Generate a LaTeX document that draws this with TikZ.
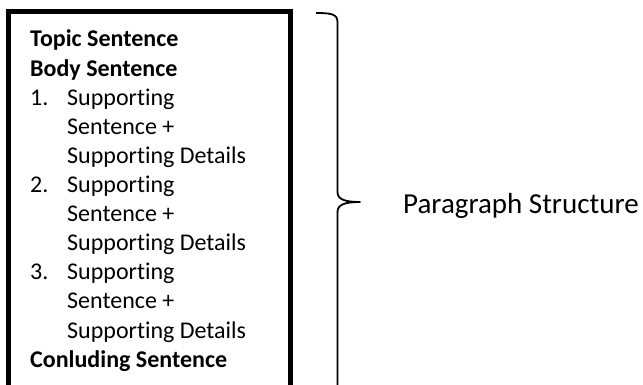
\documentclass[tikz,border=0pt]{standalone}
\usepackage{fontspec}
\setmainfont{Carlito}[Ligatures=NoCommon]
\begin{document}
\begin{tikzpicture}[x=1pt,y=-1pt,
  boxtext/.style={anchor=base west, inner sep=0pt, font=\fontsize{24}{29}\selectfont},
  boldtext/.style={anchor=base west, inner sep=0pt, font=\fontsize{24}{29}\selectfont\bfseries},
  labeltext/.style={anchor=base west, inner sep=0pt, font=\fontsize{29}{35}\selectfont},
  frame/.style={line width=5pt, line join=miter},
  bracepath/.style={line width=1.8pt, line join=round}]
\useasboundingbox (0,0) rectangle (643,385);
\begin{scope}
\clip (0,0) rectangle (643,385);
\draw[frame] (8.5,400) -- (8.5,11.5) -- (290,11.5) -- (290,400);
\coordinate (tip) at (360,202);
\draw[bracepath] (316,13) .. controls (331,13) and (337.5,14) .. (337.5,22)
  -- (337.5,192) .. controls (337.5,199) and (344,202) .. (tip)
  .. controls (344,202) and (337.5,205) .. (337.5,212)
  -- (337.5,400);
\end{scope}
\node[boldtext] (t1) at (30,47) {Topic Sentence};
\node[boldtext] (t2) at (30,76.1) {Body Sentence};
\node[boxtext] (n1) at (30,105.2) {1.};
\node[boxtext] (t3) at (67,105.2) {Supporting};
\node[boxtext] (t4) at (67,134.3) {Sentence +};
\node[boxtext] (t5) at (67,163.4) {Supporting Details};
\node[boxtext] (n2) at (30,192.5) {2.};
\node[boxtext] (t6) at (67,192.5) {Supporting};
\node[boxtext] (t7) at (67,221.6) {Sentence +};
\node[boxtext] (t8) at (67,250.7) {Supporting Details};
\node[boxtext] (n3) at (30,279.8) {3.};
\node[boxtext] (t9) at (67,279.8) {Supporting};
\node[boxtext] (t10) at (67,308.9) {Sentence +};
\node[boxtext] (t11) at (67,338) {Supporting Details};
\node[boldtext] (t12) at (30,367.1) {Conluding Sentence};
\node[labeltext] (label) at (403,213) {Paragraph Structure};
\end{tikzpicture}
\end{document}
